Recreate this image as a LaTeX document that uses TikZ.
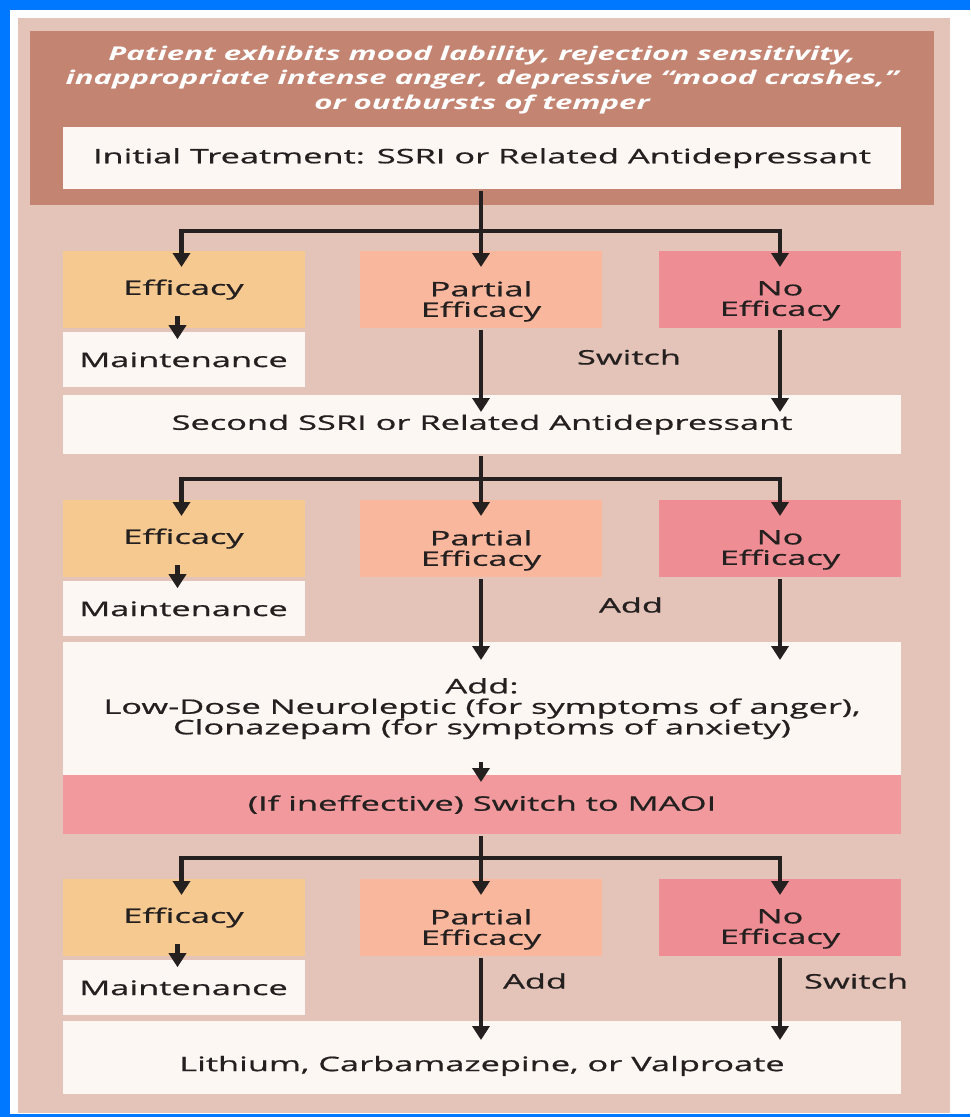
\documentclass[tikz,border=0pt]{standalone}
\usepackage{fontspec}
\setmainfont{Open Sans}[FakeStretch=1.72, FakeBold=0.8]
\newfontfamily\headfont{Open Sans}[FakeStretch=1.64]
\usetikzlibrary{arrows.meta,positioning,calc}

\definecolor{frameblue}{RGB}{0,120,255}
\definecolor{panel}{RGB}{228,195,184}
\definecolor{headbg}{RGB}{196,132,114}
\definecolor{palebox}{RGB}{253,247,244}
\definecolor{effc}{RGB}{246,201,145}
\definecolor{partc}{RGB}{249,183,158}
\definecolor{noc}{RGB}{238,141,148}
\definecolor{maoic}{RGB}{241,153,157}
\definecolor{ink}{RGB}{36,32,32}

\begin{document}
\begin{tikzpicture}[
  x=1pt, y=-1pt,
  font=\fontsize{20}{20.5}\selectfont,
  color=ink,
  line width=4.2pt,
  >={Triangle[length=14pt,width=17pt]},
  box/.style={rectangle, inner sep=0pt, text=ink, align=center, minimum width=242pt, minimum height=77pt},
  wide/.style={rectangle, inner sep=0pt, text=ink, align=center, minimum width=838pt, fill=palebox},
  lbl/.style={text=ink, inner sep=0pt, align=center}]

% frame and background
\useasboundingbox (0,0) rectangle (970,1117);
\fill[frameblue] (0,0) rectangle (970,1117);
\fill[white] (10,10) rectangle (975,1114);
\fill[panel] (18,18) rectangle (950,1113);

% header
\node[fill=headbg, inner sep=0pt, minimum width=904pt, minimum height=174pt, anchor=north west] (head) at (28,29) {};
\node[text=white, font=\headfont\fontsize{19}{24.5}\selectfont\bfseries\itshape, align=center] (title) at (482,80)
  {Patient exhibits mood lability, rejection sensitivity,\\inappropriate intense anger, depressive “mood crashes,”\\or outbursts of temper};
\node[wide, minimum height=62pt, anchor=north] (init) at (482,125) {Initial Treatment: SSRI or Related Antidepressant};

% the three outcome rows
\foreach \r/\t in {1/249,2/498,3/877} {
  \node[box, fill=effc, anchor=north] (eff\r) at (183.5,\t) {Efficacy};
  \node[box, fill=palebox, anchor=north, minimum height=55pt] (maint\r) at (eff\r.south) {Maintenance};
  \node[box, fill=partc, anchor=north] (part\r) at (481,\t) {};
  \node[lbl, anchor=north] (ptxt\r) at ($(part\r.north)+(0,30)$) {Partial\\Efficacy};
  \node[box, fill=noc, anchor=north] (none\r) at (780,\t) {};
  \node[lbl, anchor=north] (ntxt\r) at ($(none\r.north)+(0,30)$) {No\\Efficacy};
  \draw[->] ($(eff\r.south)+(-6,-14)$) -- ($(eff\r.south)+(-6,9)$);
}

\node[wide, minimum height=59pt, anchor=north] (ssri) at (482,393) {Second SSRI or Related Antidepressant};
\node[wide, minimum height=133pt, anchor=north] (addon) at (482,640)
  {Add:\\Low-Dose Neuroleptic (for symptoms of anger),\\Clonazepam (for symptoms of anxiety)};
\node[wide, fill=maoic, minimum height=59pt, anchor=north] (maoi) at (482,773) {(If ineffective) Switch to MAOI};
\node[wide, minimum height=73pt, anchor=north, text height=27pt, text depth=0pt] (lith) at (482,1019) {Lithium, Carbamazepine, or Valproate};

\node[lbl] (sw1) at (629,357) {Switch};
\node[lbl] (add2) at (631,605) {Add};
\node[lbl, anchor=west] (add3) at (501,981) {Add};
\node[lbl, anchor=west] (sw3) at (802,981) {Switch};

% branching
\foreach \r/\a/\h in {1/init/40,2/ssri/23,3/maoi/22} {
  \draw (\a.south -| part\r) -- ++(0,\h) coordinate (j\r);
  \draw[->] (j\r) -| ($(eff\r.north)+(-2,18)$);
  \draw[->] (j\r) -- ($(part\r.north)+(0,18)$);
  \draw[->] (j\r) -| ($(none\r.north)+(0,18)$);
}

% partial / no efficacy go on
\foreach \r/\b/\d in {1/ssri/19,2/addon/20,3/lith/21} {
  \draw[->] (part\r.south) -- ($(part\r.south |- \b.north)+(0,\d)$);
  \draw[->] (none\r.south) -- ($(none\r.south |- \b.north)+(0,\d)$);
}
\draw[->] ($(addon.south -| part2)+(0,-15)$) -- ($(maoi.north -| part2)+(0,9)$);

\end{tikzpicture}
\end{document}
